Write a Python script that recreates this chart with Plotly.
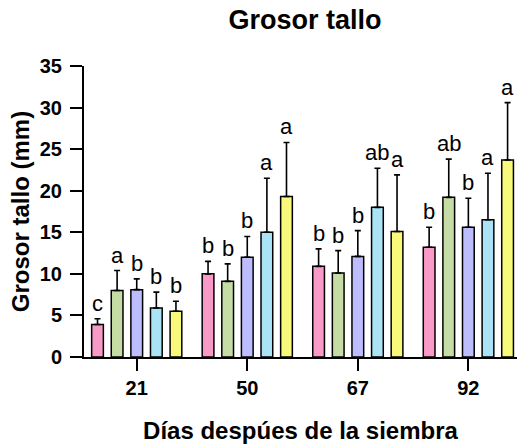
import plotly.graph_objects as go

# ---- data ----
days = ["21", "50", "67", "92"]
series_names = ["T1", "T2", "T3", "T4", "T5"]
means = [
    [3.9, 10.0, 10.9, 13.2],
    [8.0, 9.1, 10.1, 19.2],
    [8.1, 12.0, 12.1, 15.6],
    [5.9, 15.0, 18.0, 16.5],
    [5.5, 19.3, 15.1, 23.7],
]
errors = [
    [0.7, 1.5, 2.1, 2.4],
    [2.4, 2.1, 2.7, 4.6],
    [1.3, 2.5, 3.1, 3.5],
    [1.9, 6.5, 4.7, 5.6],
    [1.2, 6.5, 6.8, 6.9],
]
letters = [
    ["c", "b", "b", "b"],
    ["a", "b", "b", "ab"],
    ["b", "b", "b", "b"],
    ["b", "a", "ab", "a"],
    ["b", "a", "a", "a"],
]
y_ticks = [0, 5, 10, 15, 20, 25, 30, 35]
colors = ["#F899C7", "#C5DDA4", "#BDBDFD", "#A9E3F5", "#F8F87A"]

FONT = "Arial, Liberation Sans, sans-serif"
slot = 0.1774
bar_w = 0.106

fig = go.Figure()
annotations = []
for j, name in enumerate(series_names):
    xs = [i + (j - 2) * slot for i in range(len(days))]
    fig.add_trace(go.Bar(
        x=xs, y=means[j], width=bar_w, name=name,
        marker=dict(color=colors[j], line=dict(color="black", width=1.5)),
        error_y=dict(type="data", array=errors[j], arrayminus=[0] * len(days),
                     symmetric=False, color="black", thickness=1.6, width=3),
        showlegend=False,
    ))
    for i in range(len(days)):
        annotations.append(dict(
            x=xs[i], y=means[j][i] + errors[j][i], text=letters[j][i],
            xref="x", yref="y", showarrow=False, yanchor="bottom", yshift=1,
            font=dict(family=FONT, size=22, color="black"),
        ))

fig.update_layout(
    width=517, height=447,
    margin=dict(l=84, r=0, t=66, b=90),
    plot_bgcolor="white", paper_bgcolor="white",
    title=dict(text="<b>Grosor tallo</b>", x=305 / 517, xref="container", xanchor="center",
               y=1 - 20 / 447, yref="container", yanchor="middle",
               font=dict(family=FONT, size=27, color="black")),
    annotations=annotations,
    xaxis=dict(
        range=[-0.477, 3.44], tickmode="array", tickvals=list(range(len(days))), ticktext=days,
        showline=True, linecolor="black", linewidth=2, ticks="outside", ticklen=12,
        tickwidth=2, tickcolor="black", showgrid=False, zeroline=False, automargin=False,
        tickfont=dict(family=FONT, size=20, color="black", weight="bold"),
        title=dict(text="<b>Días despúes de la siembra</b>", standoff=24,
                   font=dict(family=FONT, size=24, color="black")),
    ),
    yaxis=dict(
        range=[0, 35], tickmode="array", tickvals=y_ticks,
        showline=True, linecolor="black", linewidth=2, ticks="outside", ticklen=12,
        tickwidth=2, tickcolor="black", showgrid=False, zeroline=False, automargin=False,
        ticklabelstandoff=4,
        tickfont=dict(family=FONT, size=20, color="black", weight="bold"),
        title=dict(text="<b>Grosor tallo (mm)</b>", standoff=3,
                   font=dict(family=FONT, size=24, color="black")),
    ),
)

fig.write_html("out.html", config={"displayModeBar": False},
               post_script="document.body.style.margin='0';document.body.style.overflow='hidden';")
